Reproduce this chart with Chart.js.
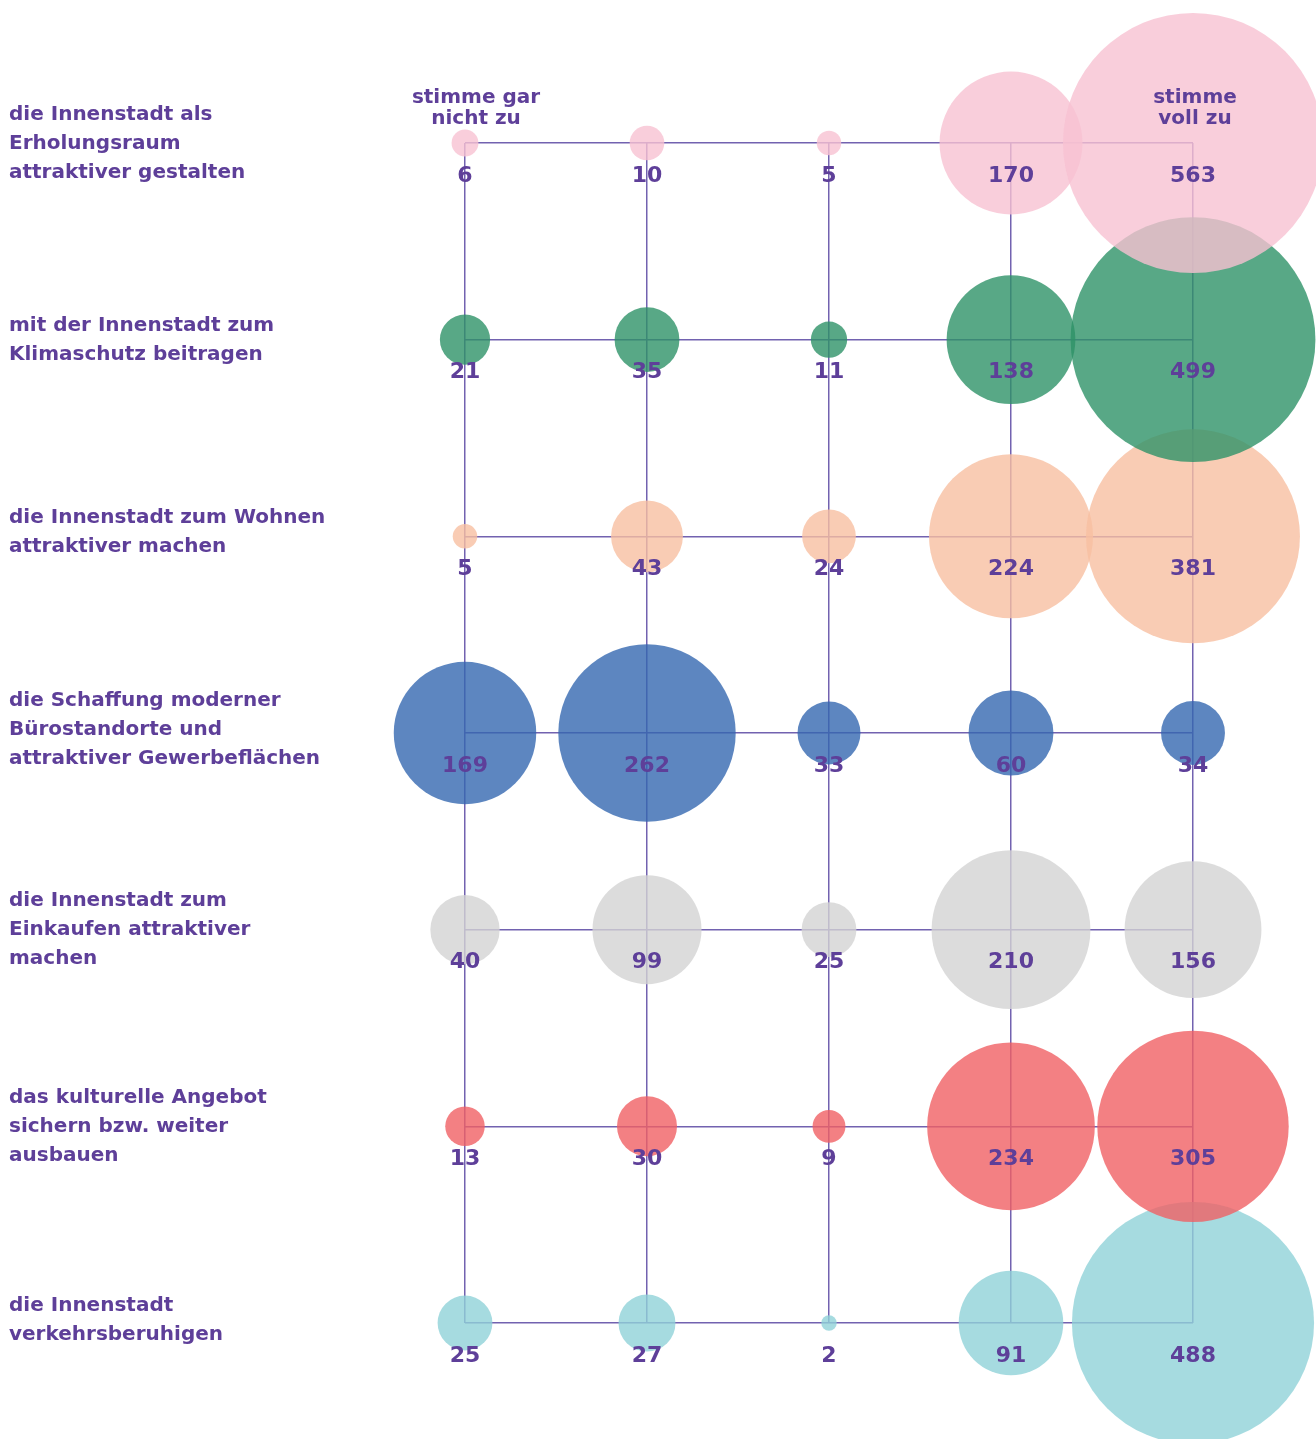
<!DOCTYPE html>
<html>
<head>
<meta charset="utf-8">
<script src="https://cdn.jsdelivr.net/npm/chart.js@4.4.0/dist/chart.umd.min.js"></script>
<style>
  html, body { margin: 0; padding: 0; background: #fff; overflow: hidden; }
  #wrap { width: 1316px; height: 1439px; position: relative; }
  canvas { display: block; }
</style>
</head>
<body>
<div id="wrap"><canvas id="bubbleChart" width="1316" height="1439"></canvas></div>
<script>
const statements = [
	['die Innenstadt als', 'Erholungsraum', 'attraktiver gestalten'],
	['mit der Innenstadt zum', 'Klimaschutz beitragen'],
	['die Innenstadt zum Wohnen', 'attraktiver machen'],
	['die Schaffung moderner', 'Bürostandorte und', 'attraktiver Gewerbeflächen'],
	['die Innenstadt zum', 'Einkaufen attraktiver', 'machen'],
	['das kulturelle Angebot', 'sichern bzw. weiter', 'ausbauen'],
	['die Innenstadt', 'verkehrsberuhigen']
];
const scaleEnds = [['stimme gar', 'nicht zu'], ['stimme', 'voll zu']];

const erholung = [6, 10, 5, 170, 563];
const klima = [21, 35, 11, 138, 499];
const wohnen = [5, 43, 24, 224, 381];
const gewerbe = [169, 262, 33, 60, 34];
const einkaufen = [40, 99, 25, 210, 156];
const kultur = [13, 30, 9, 234, 305];
const verkehr = [25, 27, 2, 91, 488];

const rows = [erholung, klima, wohnen, gewerbe, einkaufen, kultur, verkehr];
const colors = [
	'rgba(248, 194, 210, 0.8)',
	'rgba(46, 146, 104, 0.8)',
	'rgba(248, 191, 161, 0.8)',
	'rgba(52, 104, 176, 0.8)',
	'rgba(211, 211, 211, 0.8)',
	'rgba(240, 96, 100, 0.8)',
	'rgba(144, 210, 216, 0.8)'
];

const textColor = '#5e3f99';
const gridColor = '#7262b0';
const radiusFactor = 5.48;
const textFont = '"DejaVu Sans", Inter, sans-serif';
// small vertical nudges of the statement blocks
const labelShift = [1, 1, -4, -3, 0, 0, -3];

const datasets = rows.map(function(values, r) {
	return {
		label: statements[r].join(' '),
		data: values.map(function(v, c) {
			return { x: c, y: r, v: v };
		}),
		backgroundColor: colors[r],
		borderWidth: 0,
		hoverBorderWidth: 0,
		clip: false,
		radius: function(context) {
			const raw = context.raw;
			return raw ? radiusFactor * Math.sqrt(raw.v) : 0;
		}
	};
});

const labelPlugin = {
	id: 'labelPlugin',
	afterDatasetsDraw: function(chart) {
		const ctx = chart.ctx;
		const xs = chart.scales.x;
		const ys = chart.scales.y;
		ctx.save();
		ctx.fillStyle = textColor;

		// values under bubble centres
		ctx.font = 'bold 22px ' + textFont;
		ctx.textAlign = 'center';
		ctx.textBaseline = 'middle';
		rows.forEach(function(values, r) {
			values.forEach(function(v, c) {
				ctx.fillText(String(v), xs.getPixelForValue(c), ys.getPixelForValue(r) + 33);
			});
		});

		// scale end captions
		ctx.font = 'bold 20px ' + textFont;
		const top = ys.getPixelForValue(0);
		scaleEnds[0].forEach(function(line, i) {
			ctx.fillText(line, xs.getPixelForValue(0) + 11, top - 45 + i * 21);
		});
		scaleEnds[1].forEach(function(line, i) {
			ctx.fillText(line, xs.getPixelForValue(4) + 2, top - 45 + i * 21);
		});

		// statements on the left
		ctx.font = 'bold 20px ' + textFont;
		ctx.textAlign = 'left';
		statements.forEach(function(lines, r) {
			const cy = ys.getPixelForValue(r) + labelShift[r];
			const start = cy - (lines.length - 1) * 29 / 2;
			lines.forEach(function(line, i) {
				ctx.fillText(line, 9, start + i * 29);
			});
		});
		ctx.restore();
	}
};

new Chart(document.getElementById('bubbleChart').getContext('2d'), {
	type: 'bubble',
	data: { datasets: datasets },
	options: {
		responsive: false,
		animation: false,
		events: [],
		layout: {
			autoPadding: false,
			padding: { left: 465, right: 123, top: 143, bottom: 116 }
		},
		scales: {
			x: {
				type: 'linear',
				min: 0,
				max: 4,
				ticks: { display: false, stepSize: 1 },
				grid: { color: gridColor, lineWidth: 1.5, drawTicks: false },
				border: { display: false }
			},
			y: {
				type: 'linear',
				reverse: true,
				min: 0,
				max: 6,
				ticks: { display: false, stepSize: 1 },
				grid: { color: gridColor, lineWidth: 1.5, drawTicks: false },
				border: { display: false }
			}
		},
		plugins: {
			legend: { display: false },
			tooltip: { enabled: false }
		}
	},
	plugins: [labelPlugin]
});
</script>
</body>
</html>
